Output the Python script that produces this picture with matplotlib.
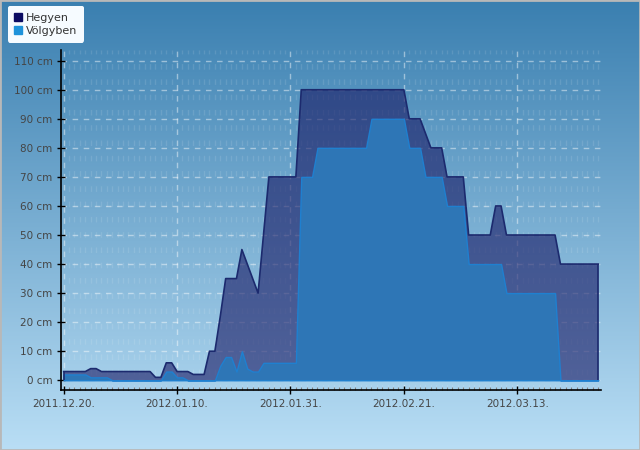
import numpy as np
import pandas as pd
import matplotlib
matplotlib.use("Agg")
import matplotlib.pyplot as plt
import matplotlib.dates as mdates
from matplotlib.colors import LinearSegmentedColormap
from matplotlib.lines import Line2D
from matplotlib.patches import Rectangle
from matplotlib.ticker import FixedLocator, FuncFormatter

# snow depth (cm), one value per day from 2011.12.20.
start_date = "2011-12-20"
hegyen = [3, 3, 3, 3, 3, 4, 4, 3, 3, 3,
          3, 3, 3, 3, 3, 3, 3, 1, 1, 6,
          6, 3, 3, 3, 2, 2, 2, 10, 10, 22,
          35, 35, 35, 45, 40, 35, 30, 50, 70, 70,
          70, 70, 70, 70, 100, 100, 100, 100, 100, 100,
          100, 100, 100, 100, 100, 100, 100, 100, 100, 100,
          100, 100, 100, 100, 90, 90, 90, 85, 80, 80,
          80, 70, 70, 70, 70, 50, 50, 50, 50, 50,
          60, 60, 50, 50, 50, 50, 50, 50, 50, 50,
          50, 50, 40, 40, 40, 40, 40, 40, 40, 40]
volgyben = [2, 2, 2, 2, 2, 1, 1, 1, 1, 0,
            0, 0, 0, 0, 0, 0, 0, 0, 0, 3,
            3, 1, 1, 0, 0, 0, 0, 0, 0, 5,
            8, 8, 3, 10, 4, 3, 3, 6, 6, 6,
            6, 6, 6, 6, 70, 70, 70, 80, 80, 80,
            80, 80, 80, 80, 80, 80, 80, 90, 90, 90,
            90, 90, 90, 90, 80, 80, 80, 70, 70, 70,
            70, 60, 60, 60, 60, 40, 40, 40, 40, 40,
            40, 40, 30, 30, 30, 30, 30, 30, 30, 30,
            30, 30, 0, 0, 0, 0, 0, 0, 0, 0]
tick_dates = ["2011-12-20", "2012-01-10", "2012-01-31", "2012-02-21", "2012-03-13"]
y_ticks = list(range(0, 111, 10))

dates = pd.date_range(start_date, periods=len(hegyen), freq="D")

fig = plt.figure(figsize=(6.4, 4.5), dpi=100)

# gradient background
bg = fig.add_axes([0, 0, 1, 1], zorder=-1)
cmap = LinearSegmentedColormap.from_list("bg", ["#3a7fb0", "#b9def5"])
bg.imshow(np.linspace(0, 1, 256).reshape(-1, 1), aspect="auto", cmap=cmap,
          extent=[0, 1, 0, 1])
bg.set_axis_off()
fig.patches.append(Rectangle((0, 0), 1, 1, transform=fig.transFigure, fill=False,
                             edgecolor="#b8b8b8", linewidth=2))

ax = fig.add_axes([0.0953, 0.1327, 0.8437, 0.7563])
ax.set_facecolor("none")

ax.fill_between(dates, hegyen, 0, facecolor="#1b1d67", alpha=0.62,
                edgecolor="none", zorder=2)
ax.fill_between(dates, volgyben, 0, facecolor="#2e76b6", edgecolor="#1f80d0",
                linewidth=1, zorder=3)
ax.plot(dates, hegyen, color="#1c2a6e", linewidth=1.2, zorder=4)
ax.vlines([dates[0], dates[-1]], 0, [hegyen[0], hegyen[-1]], color="#1c2a6e",
          linewidth=1.2, zorder=4)

ax.set_xlim(dates[0] - pd.Timedelta(hours=12), dates[-1] + pd.Timedelta(hours=12))
ax.set_ylim(-3.45, 113.7)

ax.set_yticks(y_ticks)
ax.yaxis.set_major_formatter(FuncFormatter(lambda v, p: f"{int(v)} cm"))
ax.xaxis.set_major_locator(FixedLocator(mdates.date2num(pd.to_datetime(tick_dates))))
ax.xaxis.set_minor_locator(mdates.DayLocator())
ax.xaxis.set_major_formatter(mdates.DateFormatter("%Y.%m.%d."))

ax.tick_params(axis="both", which="major", direction="inout", length=6, width=1,
               color="black", labelcolor="#454545", labelsize=7.5, pad=3)
ax.tick_params(axis="x", which="minor", direction="in", length=2.5, width=0.8,
               color="#808080")

for s in ["top", "right"]:
    ax.spines[s].set_visible(False)
for s in ["left", "bottom"]:
    ax.spines[s].set_color("black")
    ax.spines[s].set_linewidth(1.2)

ax.set_axisbelow(True)
ax.grid(True, which="major", color="white", alpha=0.45, linewidth=1,
        linestyle=(0, (4, 4)), zorder=1)
ax.grid(True, which="minor", axis="x", color="white", alpha=0.11, linewidth=1,
        linestyle=(0, (4, 7)), zorder=1)

handles = [Line2D([], [], marker="s", linestyle="none", markersize=6,
                  markerfacecolor="#0b0b62", markeredgecolor="#0b0b62", label="Hegyen"),
           Line2D([], [], marker="s", linestyle="none", markersize=6,
                  markerfacecolor="#1e92da", markeredgecolor="#1e92da", label="Völgyben")]
leg = fig.legend(handles=handles, loc="upper left", bbox_to_anchor=(8 / 640, 1 - 6 / 450),
                 fontsize=8, frameon=True, fancybox=True, framealpha=1,
                 facecolor="#f6fbff", edgecolor="none", handlelength=0.6,
                 handletextpad=0.4, borderpad=0.6, labelspacing=0.3,
                 borderaxespad=0)
for t in leg.get_texts():
    t.set_color("#333333")

fig.savefig("out.png", dpi=100)
